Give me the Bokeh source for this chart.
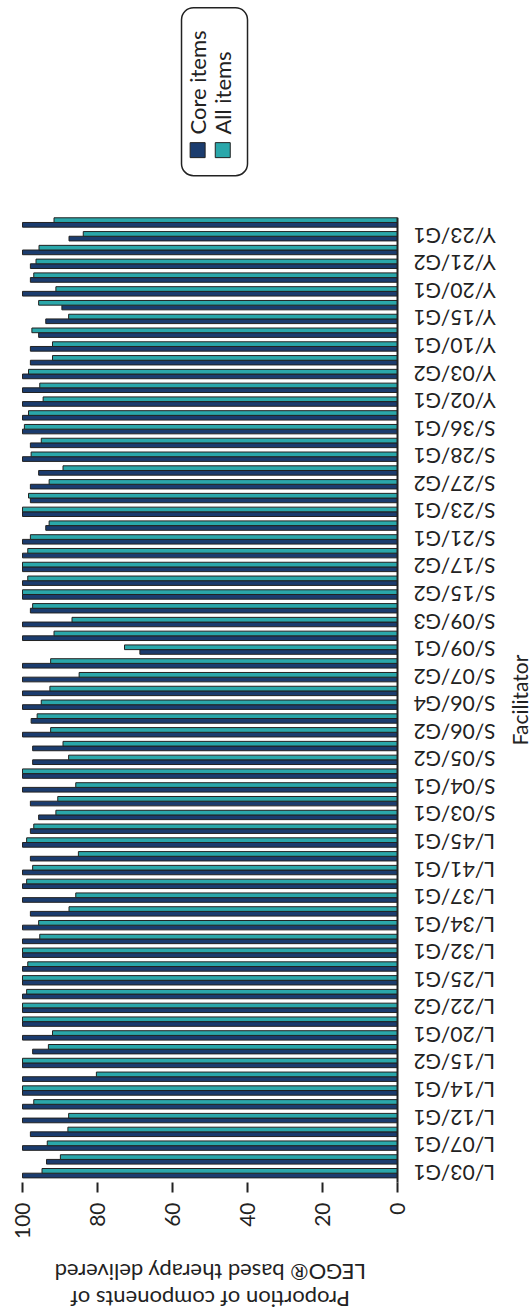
import math
from bokeh.plotting import figure
from bokeh.models import Range1d, BoxAnnotation, ColumnDataSource
from bokeh.core.properties import value
from bokeh.transform import dodge
from bokeh.embed import file_html
from bokeh.resources import INLINE

# ---------------- data ----------------
# visible facilitator tick labels (every other row), bottom to top
facilitators = ["L/03/G1", "L/07/G1", "L/12/G1", "L/14/G1", "L/15/G2", "L/20/G1",
                "L/22/G2", "L/25/G1", "L/32/G1", "L/34/G1", "L/37/G1", "L/41/G1",
                "L/45/G1", "S/03/G1", "S/04/G1", "S/05/G2", "S/06/G2", "S/06/G4",
                "S/07/G2", "S/09/G1", "S/09/G3", "S/15/G2", "S/17/G2", "S/21/G1",
                "S/23/G1", "S/27/G2", "S/28/G1", "S/36/G1", "Y/02/G1", "Y/03/G2",
                "Y/10/G1", "Y/15/G1", "Y/20/G1", "Y/21/G2", "Y/23/G1"]

series_names = ["Core items", "All items"]

# proportion delivered per session row, bottom to top (70 rows)
core_items = [100, 93.6, 100, 97.9, 100, 100, 100, 100, 100, 97.3,
              100, 100, 100, 100, 100, 100, 100, 100, 100, 97.9,
              100, 100, 100, 97.9, 100, 97.9, 95.7, 97.9, 100, 100,
              97.3, 97.3, 100, 97.7, 100, 100, 100, 100, 68.7, 100,
              100, 97.9, 100, 100, 100, 100, 100, 93.8, 100, 97.9,
              97.9, 95.7, 100, 97.9, 100, 100, 100, 100, 100, 97.9,
              97.9, 95.7, 93.8, 89.5, 100, 97.9, 97.9, 100, 87.6, 100]

all_items = [94.8, 89.9, 93.4, 87.9, 87.7, 97.0, 100, 80.3, 100, 93.1,
             92.0, 100, 100, 98.9, 100, 98.6, 100, 95.4, 95.7, 87.6,
             85.8, 98.9, 97.3, 85.1, 98.9, 97.0, 91.1, 90.6, 85.8, 100,
             87.7, 89.2, 92.5, 96.1, 95.0, 92.7, 84.9, 92.5, 72.8, 91.6,
             86.8, 97.3, 100, 98.6, 100, 98.6, 97.9, 92.9, 100, 98.4,
             92.9, 89.2, 97.7, 95.0, 99.5, 98.4, 94.5, 95.4, 98.4, 92.0,
             92.0, 97.5, 87.7, 95.7, 91.1, 97.0, 96.4, 95.6, 83.8, 91.6]

value_ticks = [0, 20, 40, 60, 80, 100]
value_tick_labels = ["0", "20", "40", "60", "80", "100"]

value_title_lines = ["Proportion of components of", "LEGO\u00ae based therapy delivered"]
category_title = "Facilitator"

# ---------------- styling ----------------
NAVY = "#1b3c6e"
TEAL = "#2aa7aa"
EDGE = "#222222"
FONT = "Lato"

rows = list(range(len(core_items)))
tick_rows = rows[0::2]
row_lo, row_hi = -0.675, 69.35          # extent of the facilitator axis line
tick_len = 0.726                        # value-axis tick length (in row units, ~10px)

src = ColumnDataSource(dict(row=rows, core=core_items, all=all_items))
lab_src = ColumnDataSource(dict(row=tick_rows, name=facilitators,
                                zero=[0] * len(tick_rows)))
vt_src = ColumnDataSource(dict(v=value_ticks, lab=value_tick_labels,
                               y0=[row_lo] * len(value_ticks),
                               y1=[row_lo - tick_len] * len(value_ticks)))

# The whole chart is drawn rotated (as in the source figure); the frame covers the
# full canvas and the axes are drawn in data space.
p = figure(width=531, height=1312, output_backend="svg", toolbar_location=None,
           x_range=Range1d(105.87, -35.73), y_range=Range1d(-10.11, 85.11),
           x_axis_location=None, y_axis_location=None,
           min_border_left=0, min_border_right=0, min_border_top=0,
           min_border_bottom=0)
p.outline_line_color = None
p.grid.visible = False
p.background_fill_color = "white"
p.border_fill_color = "white"

bar_h = 0.34
p.hbar(y=dodge("row", -0.17, range=p.y_range), left=0, right="core", height=bar_h,
       fill_color=NAVY, line_color=EDGE, line_width=1, source=src)
p.hbar(y=dodge("row", 0.17, range=p.y_range), left=0, right="all", height=bar_h,
       fill_color=TEAL, line_color=EDGE, line_width=1, source=src)

# value axis: ticks, rotated tick labels and upside-down title
p.segment(x0="v", y0="y0", x1="v", y1="y1", source=vt_src,
          line_color=EDGE, line_width=2)
p.text(x="v", y="y1", text="lab", source=vt_src, angle=math.pi / 2, y_offset=10,
       text_align="right", text_baseline="middle", text_font=value(FONT),
       text_font_size="21px", text_color=EDGE)
p.text(x=[50, 50], y=[-9.2, -7.24], text=value_title_lines, angle=math.pi,
       text_align="center", text_baseline="middle", text_font=value(FONT),
       text_font_size="22px", text_color=EDGE)

# facilitator axis (at value 0, labels upside down as in the source)
p.segment(x0=0, y0=row_lo, x1=0, y1=row_hi, line_color=EDGE, line_width=2)
p.text(x="zero", y="row", text="name", source=lab_src, angle=math.pi,
       x_offset=16, text_align="right", text_baseline="middle",
       text_font=value(FONT), text_font_size="21px", text_color=EDGE)
p.text(x=[-32.4], y=[(row_lo + row_hi) / 2], text=[category_title], angle=math.pi / 2,
       text_align="center", text_baseline="middle", text_font=value(FONT),
       text_font_size="21px", text_color=EDGE)

# legend (rotated, drawn in the empty upper part of the frame)
p.add_layout(BoxAnnotation(left=57.6, right=40.0, top=84.59, bottom=72.4,
                           fill_alpha=0, line_color=EDGE, line_alpha=1,
                           line_width=1.5, border_radius=12))
leg_x = [53.3, 46.6]
p.scatter(x=leg_x, y=[74.25, 74.25], marker="square", size=15,
          fill_color=[NAVY, TEAL], line_color=EDGE, line_width=1)
p.text(x=leg_x, y=[75.38, 75.38], text=series_names, angle=math.pi / 2,
       text_align="left", text_baseline="middle", text_font=value(FONT),
       text_font_size="22px", text_color=EDGE)

open("out.html", "w").write(file_html(p, INLINE))
